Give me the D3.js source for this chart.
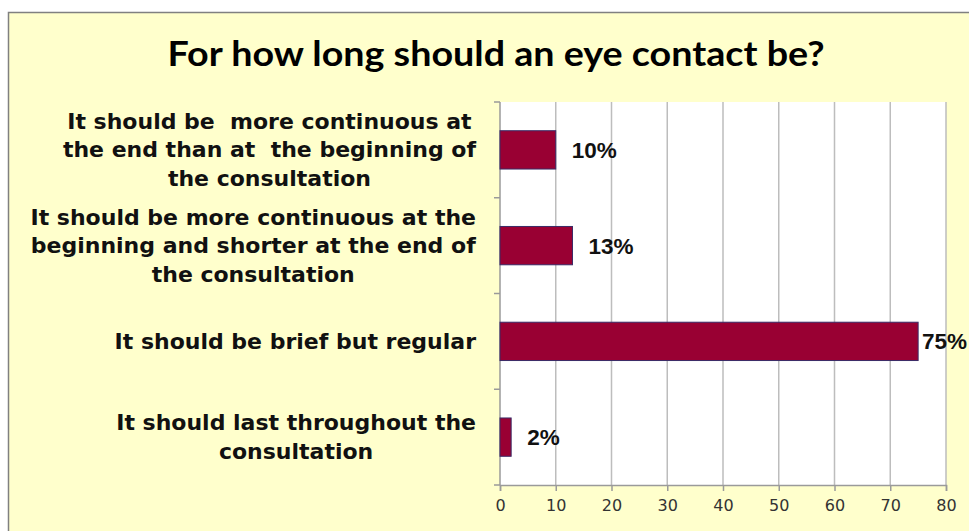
<!DOCTYPE html>
<html>
<head>
<meta charset="utf-8">
<script src="https://cdn.jsdelivr.net/npm/d3@7"></script>
<style>
  html, body { margin: 0; padding: 0; background: #ffffff; }
  svg { display: block; }
  text { white-space: pre; }
</style>
</head>
<body>
<svg id="chart" width="969" height="531"></svg>
<script>
// ---- data ----
const title = "For how long should an eye contact be?";
const categoryLines = [
  ["It should be  more continuous at", "the end than at  the beginning of", "the consultation"],
  ["It should be more continuous at the", "beginning and shorter at the end of", "the consultation"],
  ["It should be brief but regular"],
  ["It should last throughout the", "consultation"]
];
const categories = ["c1", "c2", "c3", "c4"];
const values = [10, 13, 75, 2];
const valueLabels = ["10%", "13%", "75%", "2%"];
const xTicks = [0, 10, 20, 30, 40, 50, 60, 70, 80];

// ---- layout ----
const W = 969, H = 531;
const plot = { left: 500, right: 946, top: 102, bottom: 485 };
const svg = d3.select("#chart");

// chart area background + border
svg.append("rect")
  .attr("x", 8.5).attr("y", 12.5)
  .attr("width", W + 20).attr("height", H + 20)
  .attr("fill", "#FFFFCC")
  .attr("stroke", "#808080").attr("stroke-width", 1.5);

// plot background
svg.append("rect")
  .attr("x", plot.left).attr("y", plot.top)
  .attr("width", plot.right - plot.left).attr("height", plot.bottom - plot.top)
  .attr("fill", "#ffffff");

const x = d3.scaleLinear().domain([0, 80]).range([plot.left, plot.right]);
const y = d3.scaleBand().domain(categories).range([plot.top, plot.bottom])
  .paddingInner(0.6).paddingOuter(0.3);

// gridlines
svg.append("g").selectAll("line").data(xTicks.filter(d => d > 0)).join("line")
  .attr("x1", d => x(d)).attr("x2", d => x(d))
  .attr("y1", plot.top).attr("y2", plot.bottom)
  .attr("stroke", "#bdbdbd").attr("stroke-width", 1.5);

// x axis
const xAxis = d3.axisBottom(x).tickValues(xTicks).tickSize(6).tickPadding(9);
const gx = svg.append("g").attr("transform", `translate(0,${plot.bottom})`).call(xAxis);
gx.select(".domain").attr("stroke", "#9a9a9a").attr("stroke-width", 1.5);
gx.selectAll(".tick line").attr("stroke", "#9a9a9a").attr("stroke-width", 1.5);
gx.selectAll(".tick text")
  .attr("font-family", "'DejaVu Sans', Verdana, sans-serif")
  .attr("font-size", 16).attr("fill", "#333333");

// y axis (ticks between categories)
const yBoundaries = [0, 1, 2, 3, 4];
const step = y.step();
const y0 = plot.top;
svg.append("line")
  .attr("x1", plot.left).attr("x2", plot.left)
  .attr("y1", plot.top).attr("y2", plot.bottom)
  .attr("stroke", "#9a9a9a").attr("stroke-width", 1.5);
svg.append("g").selectAll("line").data(yBoundaries).join("line")
  .attr("x1", plot.left - 6).attr("x2", plot.left)
  .attr("y1", d => y0 + d * step).attr("y2", d => y0 + d * step)
  .attr("stroke", "#9a9a9a").attr("stroke-width", 1.5);

// bars
svg.append("g").selectAll("rect").data(values).join("rect")
  .attr("x", x(0))
  .attr("y", (d, i) => y(categories[i]))
  .attr("width", d => x(d) - x(0))
  .attr("height", y.bandwidth())
  .attr("fill", "#990033")
  .attr("stroke", "#3a2a66").attr("stroke-width", 1);

// value labels
svg.append("g").selectAll("text").data(values).join("text")
  .attr("x", d => Math.min(x(d) + 16, 922))
  .attr("y", (d, i) => y(categories[i]) + y.bandwidth() / 2 + 8)
  .attr("font-family", "'Liberation Sans', Arial, sans-serif")
  .attr("font-weight", "bold").attr("font-size", 22.5)
  .attr("fill", "#111111")
  .text((d, i) => valueLabels[i]);

// category labels
const labelRight = 476;
const lineH = 28.5;
categoryLines.forEach((lines, i) => {
  const g = svg.append("g");
  const cy = y(categories[i]) + y.bandwidth() / 2;
  const texts = lines.map((ln, j) => g.append("text")
    .attr("font-family", "'DejaVu Sans', Verdana, sans-serif")
    .attr("font-weight", "bold").attr("font-size", 22)
    .attr("fill", "#111111")
    .attr("text-anchor", "middle")
    .attr("y", cy + 7.5 + (j - (lines.length - 1) / 2) * lineH)
    .text(ln));
  const maxW = d3.max(texts, t => t.node().getComputedTextLength());
  texts.forEach(t => t.attr("x", labelRight - maxW / 2));
});

// title
svg.append("text")
  .attr("x", 496).attr("y", 66)
  .attr("text-anchor", "middle")
  .attr("font-family", "Lato, 'Open Sans', sans-serif")
  .attr("font-weight", "bold").attr("font-size", 34)
  .attr("textLength", 657).attr("lengthAdjust", "spacingAndGlyphs")
  .attr("fill", "#000000")
  .text(title);
</script>
</body>
</html>
